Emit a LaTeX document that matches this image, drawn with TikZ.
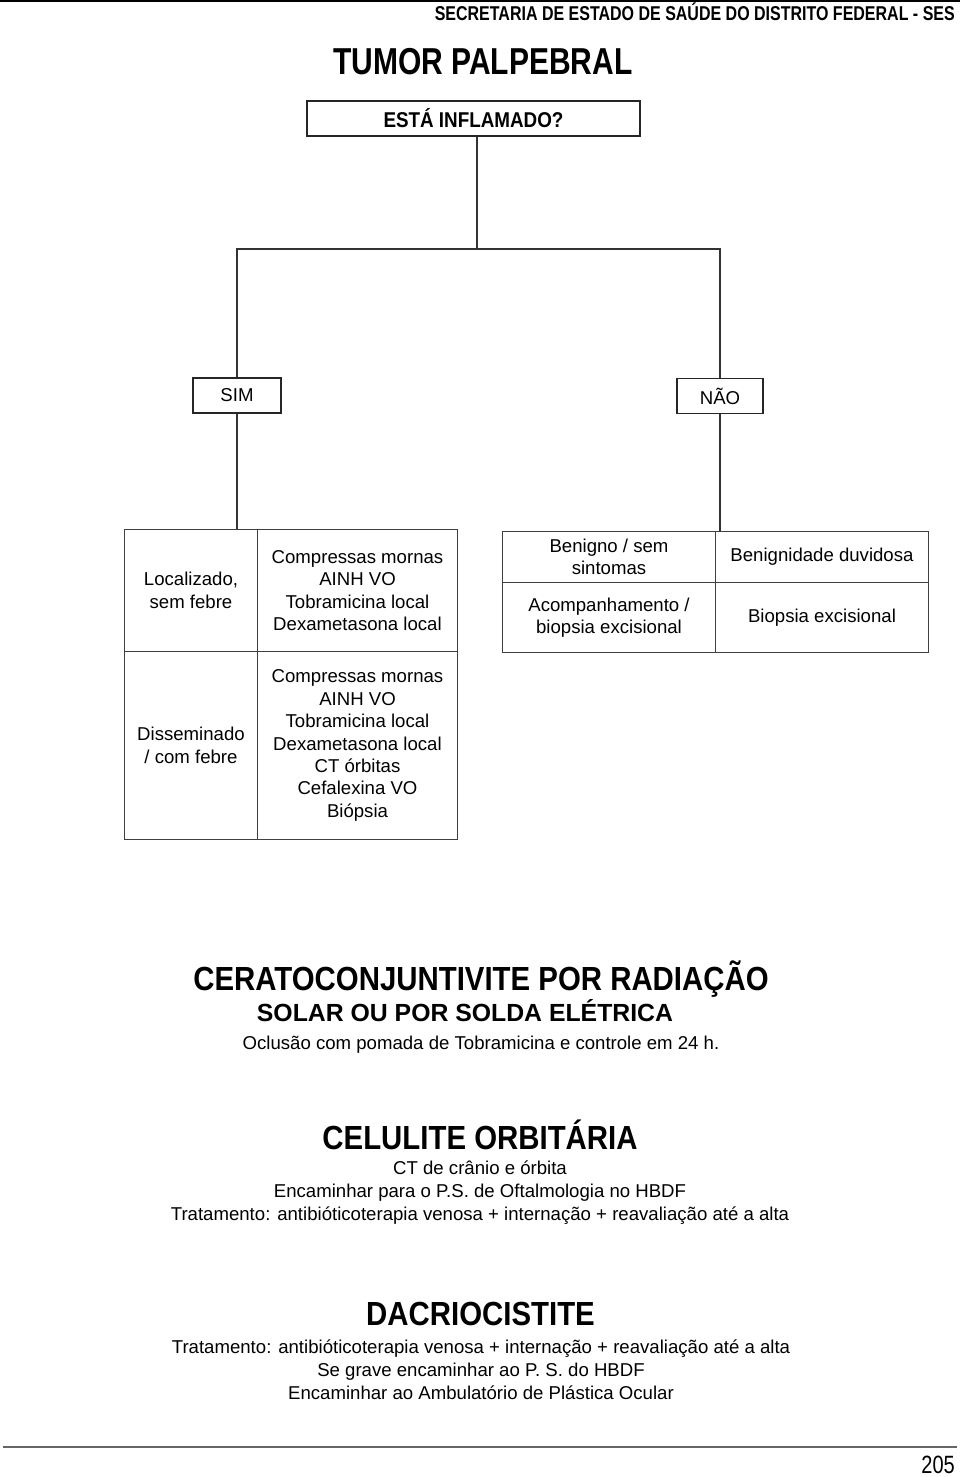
\documentclass[tikz,border=0pt]{standalone}
\usepackage{fontspec}
\setmainfont{Liberation Sans}
\newfontfamily\narrowfont[FakeStretch=0.8]{Liberation Sans}
\newfontfamily\condfont[FakeStretch=0.88]{Liberation Sans}
\usetikzlibrary{positioning}

\begin{document}
\begin{tikzpicture}[x=1pt,y=-1pt,
				cell/.style={draw=black!75,line width=1pt,inner sep=0pt,anchor=north west,align=center,font=\fontsize{18.6}{22.4}\selectfont},
				optbox/.style={draw=black!85,line width=1.2pt,inner sep=0pt,minimum height=35pt,font=\fontsize{18.6}{22}\selectfont},
				link/.style={draw=black!80,line width=1.8pt},
				heading/.style={font=\condfont\bfseries\fontsize{33.4}{36}\selectfont,anchor=base,inner sep=0pt},
				body/.style={font=\fontsize{18.6}{22.8}\selectfont,align=center,anchor=base,inner sep=0pt}]
			\useasboundingbox (0,0) rectangle (960,1477);
			\draw[line width=2pt] (0,1) -- (960,1);
			\node[anchor=base east,inner sep=0pt,font=\narrowfont\bfseries\fontsize{20}{24}\selectfont] (secretaria) at (955,21) {SECRETARIA DE ESTADO DE SAÚDE DO DISTRITO FEDERAL - SES};
			\node[anchor=base west,inner sep=0pt,font=\narrowfont\bfseries\fontsize{37.5}{40}\selectfont] (titulo) at (333,75) {TUMOR PALPEBRAL};

			\node[optbox,minimum width=333pt,font=\condfont\bfseries\fontsize{21.4}{24}\selectfont] (inflamado) at (473.5,118.5) {ESTÁ INFLAMADO?};
			\node[optbox,minimum width=88pt] (sim) at (237,395.5) {SIM};
			\node[optbox,minimum width=86pt] (nao) at (720,396) {NÃO};

			\node[cell,minimum width=133pt,minimum height=122pt] (local) at (124,529) {Localizado,\\ sem febre};
			\node[cell,minimum width=200pt,minimum height=122pt] (tratlocal) at (257,529) {Compressas mornas\\ AINH VO\\ Tobramicina local\\ Dexametasona local};
			\node[cell,minimum width=133pt,minimum height=188pt] (dissem) at (124,651) {Disseminado\\ / com febre};
			\node[cell,minimum width=200pt,minimum height=188pt] (tratdissem) at (257,651) {Compressas mornas\\ AINH VO\\ Tobramicina local\\ Dexametasona local\\ CT órbitas\\ Cefalexina VO\\ Biópsia};
			\node[cell,minimum width=213pt,minimum height=51pt] (benigno) at (502,531) {Benigno / sem\\ sintomas};
			\node[cell,minimum width=213pt,minimum height=70pt] (acomp) at (502,582) {Acompanhamento /\\ biopsia excisional};
			\node[cell,minimum width=213pt,minimum height=51pt] (duvida) at (715,531) {Benignidade duvidosa};
			\node[cell,minimum width=213pt,minimum height=70pt] (excis) at (715,582) {Biopsia excisional};

			\coordinate (split) at (477,249);
			\draw[link] (inflamado.south -| split) -- (split);
			\draw[link] (sim.north) |- (split) -| (nao.north);
			\draw[link] (sim.south) -- (sim.south |- local.north);
			\draw[link] (nao.south) -- (nao.south |- duvida.north);

			\node[heading] (cerato) at (481,990) {CERATOCONJUNTIVITE POR RADIAÇÃO};
			\node[anchor=base,inner sep=0pt,font=\bfseries\fontsize{24.8}{28}\selectfont] (solar) at (465,1021) {SOLAR OU POR SOLDA ELÉTRICA};
			\node[body] (oclusao) at (481,1049) {Oclusão com pomada de Tobramicina e controle em 24 h.};

			\node[heading] (celulite) at (480,1149) {CELULITE ORBITÁRIA};
			\node[body] (celtexto) at (480,1220) {CT de crânio e órbita\\ Encaminhar para o P.S. de Oftalmologia no HBDF\\ Tratamento: antibióticoterapia venosa + internação + reavaliação até a alta};

			\node[heading] (dacrio) at (480.5,1325) {DACRIOCISTITE};
			\node[body] (dactexto) at (481,1399) {Tratamento: antibióticoterapia venosa + internação + reavaliação até a alta\\ Se grave encaminhar ao P. S. do HBDF\\ Encaminhar ao Ambulatório de Plástica Ocular};

			\draw[line width=2.5pt,black!60] (3,1447) -- (957,1447);
			\node[anchor=base east,inner sep=0pt,font=\narrowfont\fontsize{25}{28}\selectfont] (pagina) at (955,1473) {205};
		\end{tikzpicture}
\end{document}
